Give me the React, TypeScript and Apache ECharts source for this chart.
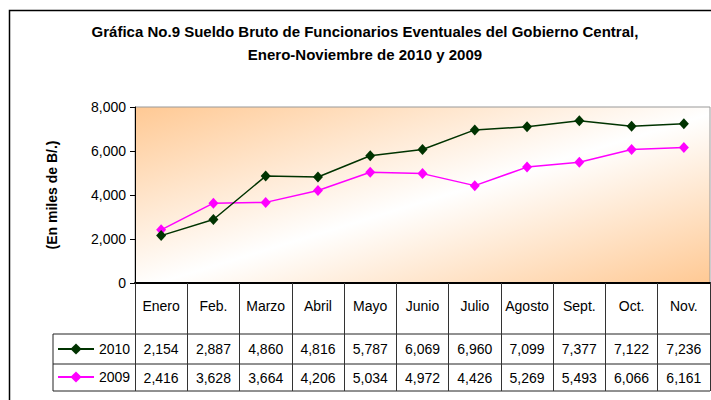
import React, { useEffect, useRef } from "react";
import * as echarts from "echarts";

const categories = ["Enero", "Feb.", "Marzo", "Abril", "Mayo", "Junio", "Julio", "Agosto", "Sept.", "Oct.", "Nov."];
const values2010 = [2154, 2887, 4860, 4816, 5787, 6069, 6960, 7099, 7377, 7122, 7236];
const values2009 = [2416, 3628, 3664, 4206, 5034, 4972, 4426, 5269, 5493, 6066, 6161];
const seriesNames = ["2010", "2009"];
const yTicks = { min: 0, max: 8000, interval: 2000 };

const W = 711;
const H = 400;
const GRID_LEFT = 135;
const GRID_RIGHT_X = 710;
const GRID_TOP = 107;
const GRID_BOTTOM_Y = 283;
const ROW1_Y = 334;
const ROW2_Y = 364;
const ROW3_Y = 391;
const TABLE_LEFT = 53;
const FONT = "Arial, 'Liberation Sans', sans-serif";

const fmt = (v: number) => v.toLocaleString("en-US");

export default function App() {
  const ref = useRef<HTMLDivElement>(null);
  useEffect(() => {
    if (!ref.current) return;
    const chart = echarts.init(ref.current, null, { renderer: "svg" });
    const lineStyle = { stroke: "#222", lineWidth: 1 };
    chart.setOption({
      animation: false,
      backgroundColor: "#fff",
      title: {
        text: "Gráfica No.9 Sueldo Bruto de Funcionarios Eventuales del Gobierno Central,\nEnero-Noviembre de 2010 y 2009",
        left: 365,
        top: 20,
        padding: 0,
        textAlign: "center",
        textStyle: { fontFamily: FONT, fontWeight: "bold", fontSize: 15, lineHeight: 23, color: "#000" },
      },
      legend: {
        orient: "vertical",
        left: 57,
        top: ROW1_Y + 8,
        padding: 0,
        itemWidth: 36,
        itemHeight: 14,
        itemGap: 14,
        data: seriesNames,
        textStyle: { fontFamily: FONT, fontSize: 14, color: "#000", padding: [0, 0, 0, 0] },
      },
      grid: {
        left: GRID_LEFT,
        right: W - GRID_RIGHT_X,
        top: GRID_TOP,
        bottom: H - GRID_BOTTOM_Y,
        show: true,
        borderColor: "#999",
        borderWidth: 1,
        backgroundColor: new echarts.graphic.LinearGradient(0, 0, 1, 1, [
          { offset: 0, color: "#FFC994" },
          { offset: 0.52, color: "#FFFFFF" },
          { offset: 1, color: "#FFC994" },
        ]),
      },
      xAxis: {
        type: "category",
        data: categories,
        boundaryGap: true,
        axisLine: { show: true, lineStyle: { color: "#000", width: 2 } },
        axisTick: { show: true, length: ROW3_Y - GRID_BOTTOM_Y, lineStyle: { color: "#333", width: 1 } },
        axisLabel: {
          interval: 0,
          margin: 0,
          verticalAlign: "top",
          formatter: (value: string, idx: number) =>
            `{c|${value}}\n{v|${fmt(values2010[idx])}}\n{w|${fmt(values2009[idx])}}`,
          rich: {
            c: { fontFamily: FONT, fontSize: 14, color: "#000", lineHeight: 46 },
            v: { fontFamily: FONT, fontSize: 14, color: "#000", lineHeight: 40 },
            w: { fontFamily: FONT, fontSize: 14, color: "#000", lineHeight: 17 },
          },
        },
      },
      yAxis: {
        type: "value",
        min: yTicks.min,
        max: yTicks.max,
        interval: yTicks.interval,
        name: "(En miles de B/.)",
        nameLocation: "middle",
        nameGap: 76,
        nameRotate: 90,
        nameTextStyle: { fontFamily: FONT, fontWeight: "bold", fontSize: 14, color: "#000" },
        axisLine: { show: true, lineStyle: { color: "#000", width: 1 } },
        axisTick: { show: true, length: 5, lineStyle: { color: "#000" } },
        splitLine: { show: false },
        axisLabel: {
          margin: 9,
          fontFamily: FONT,
          fontSize: 14,
          color: "#000",
          formatter: (v: number) => fmt(v),
        },
      },
      series: [
        {
          name: seriesNames[0],
          type: "line",
          data: values2010,
          symbol: "diamond",
          symbolSize: [10, 11],
          color: "#003300",
          lineStyle: { color: "#003300", width: 1.5 },
          itemStyle: { color: "#003300" },
          z: 3,
        },
        {
          name: seriesNames[1],
          type: "line",
          data: values2009,
          symbol: "diamond",
          symbolSize: [10, 11],
          color: "#FF00FF",
          lineStyle: { color: "#FF00FF", width: 1.5 },
          itemStyle: { color: "#FF00FF" },
          z: 2,
        },
      ],
      graphic: [
        { type: "rect", shape: { x: 9.5, y: 10.5, width: 760, height: 420 }, style: { fill: "none", stroke: "#000", lineWidth: 1.5 }, silent: true },
        { type: "line", shape: { x1: TABLE_LEFT, y1: ROW1_Y, x2: GRID_RIGHT_X, y2: ROW1_Y }, style: lineStyle },
        { type: "line", shape: { x1: TABLE_LEFT, y1: ROW2_Y, x2: GRID_RIGHT_X, y2: ROW2_Y }, style: lineStyle },
        { type: "line", shape: { x1: TABLE_LEFT, y1: ROW3_Y, x2: GRID_RIGHT_X, y2: ROW3_Y }, style: lineStyle },
        { type: "line", shape: { x1: TABLE_LEFT, y1: ROW1_Y, x2: TABLE_LEFT, y2: ROW3_Y }, style: lineStyle },
      ],
    });
    return () => chart.dispose();
  }, []);
  return <div ref={ref} style={{ position: "fixed", left: 0, top: 0, width: W, height: H }} />;
}
